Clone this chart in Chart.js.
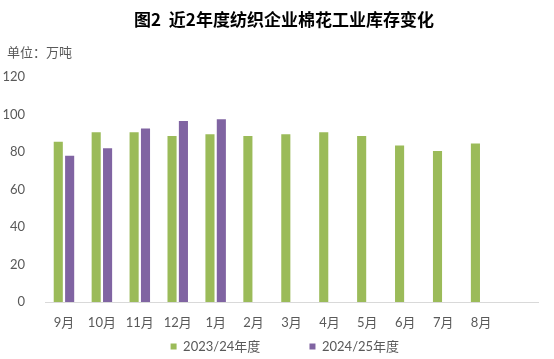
<!DOCTYPE html>
<html>
<head>
<meta charset="utf-8">
<script src="https://cdn.jsdelivr.net/npm/chart.js@4/dist/chart.umd.min.js"></script>
<style>
  html, body { margin: 0; padding: 0; background: #fff; }
  #wrap { width: 554px; height: 359px; position: relative; }
</style>
</head>
<body>
<div id="wrap"><canvas id="chart-bar"></canvas></div>
<script>
const months = ["9月", "10月", "11月", "12月", "1月", "2月", "3月", "4月", "5月", "6月", "7月", "8月", ""];
const season2324 = [85.5, 90.5, 90.5, 88.5, 89.5, 88.5, 89.5, 90.5, 88.5, 83.5, 80.5, 84.5];
const season2425 = [78, 82, 92.5, 96.5, 97.5];
const yTicks = [0, 20, 40, 60, 80, 100, 120];

const TITLE = "图2  近2年度纺织企业棉花工业库存变化";
const UNIT = "单位：万吨";
const TEXT_COLOR = "#595959";
const FONT = "Lato, 'Noto Sans CJK SC', sans-serif";
const LEGEND_TAIL = ["             ", "    "]; // хвостовые пробелы — раздвигают легенду

// заголовок и единицы рисуем сами
const headerPlugin = {
  id: "header",
  afterDraw(chart) {
    const ctx = chart.ctx;
    ctx.save();
    ctx.fillStyle = "#000";
    ctx.font = "bold 17px 'Noto Sans CJK SC', sans-serif";
    ctx.textAlign = "center";
    ctx.textBaseline = "middle";
    ctx.fillText(TITLE, 284, 20);
    ctx.fillStyle = TEXT_COLOR;
    ctx.font = "13px 'Noto Sans CJK SC', sans-serif";
    ctx.textAlign = "left";
    ctx.fillText(UNIT, 7, 52);
    ctx.restore();
  },
};

const ctx = document.getElementById("chart-bar").getContext("2d");

new Chart(ctx, {
  type: "bar",
  data: {
    labels: months,
    datasets: [
      { label: "2023/24年度", data: season2324, backgroundColor: "#9BBB59" },
      { label: "2024/25年度", data: season2425, backgroundColor: "#8064A2" },
    ],
  },
  plugins: [headerPlugin],
  options: {
    responsive: true,
    maintainAspectRatio: false,
    animation: false,
    layout: { padding: { top: 77, right: 16, bottom: 0, left: 0 } },
    datasets: {
      bar: { categoryPercentage: 0.6, barPercentage: 0.8 },
    },
    scales: {
      y: {
        min: 0,
        max: 120,
        afterBuildTicks: (axis) => { axis.ticks = yTicks.map((v) => ({ value: v })); },
        afterFit: (axis) => { axis.width = 45; },
        grid: { display: false },
        border: { display: false },
        ticks: { color: TEXT_COLOR, padding: 12, font: { family: FONT, size: 13 } },
      },
      x: {
        afterFit: (axis) => { axis.height = 32; },
        grid: { display: false, drawTicks: false },
        border: { display: true, color: "#D9D9D9", width: 1 },
        ticks: { color: TEXT_COLOR, padding: 13, autoSkip: false, maxRotation: 0, font: { family: FONT, size: 13 } },
      },
    },
    plugins: {
      legend: {
        position: "bottom",
        fullSize: false,
        maxHeight: 25,
        labels: {
          boxWidth: 6,
          boxHeight: 6,
          padding: 6,
          color: TEXT_COLOR,
          font: { family: FONT, size: 13 },
          generateLabels: (chart) =>
            Chart.defaults.plugins.legend.labels.generateLabels(chart).map((item, i) => ({
              ...item,
              text: item.text + LEGEND_TAIL[i],
            })),
        },
      },
      tooltip: { enabled: false },
    },
  },
});
</script>
</body>
</html>
